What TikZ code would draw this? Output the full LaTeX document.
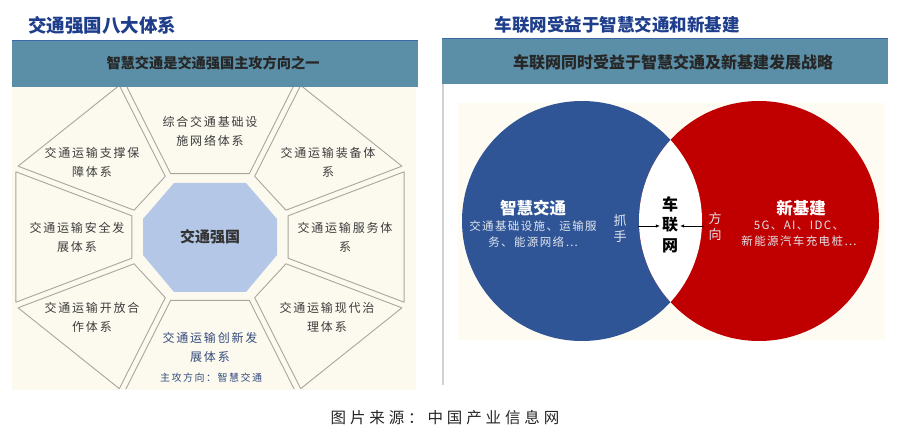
\documentclass[tikz,border=0pt]{standalone}
\usepackage{fontspec}
\usetikzlibrary{calc,arrows.meta}
\newfontfamily\cjk{Noto Sans CJK SC}
\newfontfamily\cjksp[LetterSpace=15]{Noto Sans CJK SC}
\newfontfamily\cjkspb[LetterSpace=12]{Noto Sans CJK SC}
\newfontfamily\cjksrc[LetterSpace=25]{Noto Sans CJK SC}
\definecolor{cream}{RGB}{252,249,238}
\definecolor{banner}{RGB}{91,143,168}
\definecolor{bannerline}{RGB}{60,105,165}
\definecolor{titleblue}{RGB}{30,62,140}
\definecolor{octblue}{RGB}{180,199,231}
\definecolor{piecegray}{RGB}{168,166,158}
\definecolor{piecetext}{RGB}{60,60,60}
\definecolor{bottomtext}{RGB}{50,75,125}
\definecolor{vennblue}{RGB}{47,85,151}
\definecolor{vennred}{RGB}{192,0,0}
\definecolor{venncream}{RGB}{254,251,242}
\definecolor{lighttext}{RGB}{225,228,236}
\begin{document}
\begin{tikzpicture}[x=1pt,y=-1pt,
  titletxt/.style={font=\cjk\bfseries, text=titleblue, inner sep=0},
  bannertxt/.style={font=\cjk\bfseries, text=black!85, inner sep=0},
  piece/.style={draw=piecegray, line width=0.9pt, fill=cream, line join=round},
  piecetxt/.style={font=\cjksp\fontsize{12}{19}\selectfont, text=piecetext, align=center, inner sep=0},
  venntxt/.style={font=\cjkspb\fontsize{11.5}{16}\selectfont, text=lighttext, align=center, inner sep=0},
  vennhead/.style={font=\cjk\bfseries\fontsize{16.5}{18}\selectfont, text=white, inner sep=0},
  arr/.style={-{Latex[length=4pt,width=3.5pt]}, line width=0.6pt, black}
]
\useasboundingbox (0,0) rectangle (900,435);
\fill[white] (0,0) rectangle (900,435);

% ================= LEFT PANEL =================
\node[titletxt, font=\cjk\bfseries\fontsize{18.5}{20}\selectfont] (ltitle) at (102,25) {交通强国八大体系};
\fill[cream] (12,87) rectangle (416,390);

\coordinate (I1) at (168,175); \coordinate (O1) at (122,84);
\coordinate (I2) at (252,175); \coordinate (O2) at (298,84);
\coordinate (I3) at (287,213); \coordinate (O3) at (403,169);
\coordinate (I4) at (287,261); \coordinate (O4) at (403,305);
\coordinate (I5) at (252,299); \coordinate (O5) at (298,390);
\coordinate (I6) at (168,299); \coordinate (O6) at (122,390);
\coordinate (I7) at (133,261); \coordinate (O7) at (17,305);
\coordinate (I8) at (133,213); \coordinate (O8) at (17,169);

\begin{scope}
\clip (12,87) rectangle (416,389);
\foreach \a/\b in {1/2,2/3,3/4,4/5,5/6,6/7,7/8,8/1}{
  \draw[piece] ($(I\a)!3pt!-90:(O\a)$) -- ($(O\a)!3pt!90:(I\a)$)
     -- ($(O\b)!3pt!-90:(I\b)$) -- ($(I\b)!3pt!90:(O\b)$) -- cycle;
}
\end{scope}

\fill[octblue] (174,183) -- (246,183) -- (277,219) -- (277,255) -- (246,292)
   -- (174,292) -- (143,255) -- (143,219) -- cycle;
\node[font=\cjk\bfseries\fontsize{15}{17}\selectfont, text=black!80, inner sep=0] (core) at (210,237) {交通强国};

\node[piecetxt] (p1) at (210,131) {综合交通基础设\\施网络体系};
\node[piecetxt] (p2) at (328,162) {交通运输装备体\\系};
\node[piecetxt] (p3) at (345,237) {交通运输服务体\\系};
\node[piecetxt] (p4) at (327,317) {交通运输现代治\\理体系};
\node[piecetxt, text=bottomtext] (p5) at (210,347.5) {交通运输创新发\\展体系};
\node[piecetxt, text=bottomtext, font=\cjksp\fontsize{10}{12}\selectfont] (p5b) at (211,378) {主攻方向：智慧交通};
\node[piecetxt] (p6) at (92,317) {交通运输开放合\\作体系};
\node[piecetxt] (p7) at (77,237) {交通运输安全发\\展体系};
\node[piecetxt] (p8) at (92,162) {交通运输支撑保\\障体系};

\fill[banner] (12,40) rectangle (418,87);
\draw[bannerline, line width=1pt] (12,40.5) -- (418,40.5);
\node[bannertxt, font=\cjk\bfseries\fontsize{14.2}{16}\selectfont] (lban) at (213,63) {智慧交通是交通强国主攻方向之一};

% ================= RIGHT PANEL =================
\node[titletxt, font=\cjk\bfseries\fontsize{17.5}{19}\selectfont] (rtitle) at (617,25) {车联网受益于智慧交通和新基建};
\fill[banner] (442,38) rectangle (888,84);
\draw[bannerline, line width=1pt] (442,38.5) -- (888,38.5);
\node[bannertxt, font=\cjk\bfseries\fontsize{16}{18}\selectfont] (rban) at (673,62) {车联网同时受益于智慧交通及新基建发展战略};
\draw[black!18, line width=1.5pt] (443,84) -- (443,385);

\fill[venncream] (458,103) rectangle (885,340);
\begin{scope}
\clip (458,101) rectangle (885,341);
\fill[vennblue] (582,221) circle (120);
\fill[vennred] (759,221) circle (120);
\begin{scope}
\clip (582,221) circle (120);
\fill[white] (759,221) circle (120);
\end{scope}
\end{scope}

\node[vennhead] (zh) at (533,208) {智慧交通};
\node[venntxt] (zh2) at (533,234) {交通基础设施、运输服\\务、能源网络…};
\node[venntxt, font=\cjk\fontsize{13}{16}\selectfont] (zs) at (620,229) {抓\\手};
\node[vennhead] (xj) at (801,208) {新基建};
\node[venntxt] (xj2) at (799,234) {5G、AI、IDC、\\新能源汽车充电桩…};
\node[venntxt, font=\cjk\fontsize{13}{16}\selectfont] (fx) at (715,227) {方\\向};

\node[font=\cjk\bfseries\fontsize{16}{18}\selectfont, inner sep=0] (che) at (670,204) {车};
\node[font=\cjk\bfseries\fontsize{16}{18}\selectfont, inner sep=0] (lian) at (670,225) {联};
\node[font=\cjk\bfseries\fontsize{16}{18}\selectfont, inner sep=0] (wang) at (670,246) {网};
\coordinate (al) at (638,226);
\coordinate (ar) at (704,226);
\draw[arr] (al) -- ([xshift=-2pt]lian.west |- al);
\draw[arr] (ar) -- ([xshift=2pt]lian.east |- ar);

% ================= SOURCE =================
\node[font=\cjksrc\fontsize{15.5}{17}\selectfont, text=black!85, inner sep=0] (src) at (445,418) {图片来源：中国产业信息网};
\end{tikzpicture}
\end{document}
